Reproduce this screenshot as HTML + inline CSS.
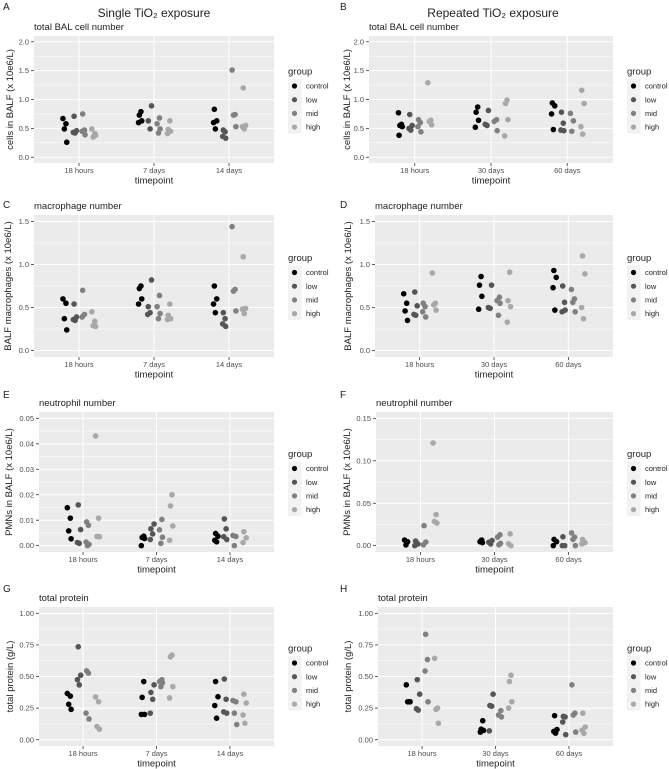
<!DOCTYPE html>
<html><head><meta charset="utf-8">
<style>
html,body{margin:0;padding:0;background:#fff;}
svg{display:block;font-family:"Liberation Sans","DejaVu Sans",sans-serif;}
</style></head>
<body>
<svg id="fig" width="669" height="769" viewBox="0 0 669 769" xmlns="http://www.w3.org/2000/svg">
<text x="154" y="17" font-size="12" text-anchor="middle" fill="#222">Single TiO₂ exposure</text>
<text x="493" y="17" font-size="12" text-anchor="middle" fill="#222">Repeated TiO₂ exposure</text>
</svg>
<script>
const groups = ["control","low","mid","high"];
const categoriesSingle = ["18 hours","7 days","14 days"];
const categoriesRepeated = ["18 hours","30 days","60 days"];

// values[timepoint][group] = observations
const totalCellsSingle = [
 [[0.67,0.58,0.49,0.26],[0.71,0.46,0.43,0.42],[0.75,0.47,0.45,0.39],[0.49,0.41,0.35,0.38]],
 [[0.79,0.73,0.63,0.60],[0.89,0.63,0.49],[0.68,0.58,0.49,0.42],[0.63,0.48,0.45,0.41]],
 [[0.83,0.63,0.60,0.49],[0.47,0.44,0.36,0.33],[1.51,0.74,0.73,0.53],[1.20,0.55,0.53,0.49]]
];
const totalCellsRepeated = [
 [[0.77,0.57,0.55,0.53,0.38],[0.74,0.55,0.50,0.47],[0.65,0.60,0.53,0.44],[1.29,0.64,0.62,0.56]],
 [[0.87,0.78,0.64,0.52],[0.81,0.57,0.55],[0.65,0.62,0.46],[0.99,0.93,0.65,0.37]],
 [[0.94,0.89,0.75,0.48],[0.78,0.59,0.47,0.46],[0.76,0.63,0.45],[1.16,0.93,0.53,0.40]]
];
const macrophagesSingle = [
 [[0.60,0.55,0.37,0.24],[0.54,0.39,0.36,0.35],[0.70,0.42,0.39],[0.45,0.34,0.29,0.28]],
 [[0.75,0.72,0.60,0.54],[0.82,0.51,0.44,0.42],[0.64,0.51,0.43,0.37],[0.54,0.41,0.37,0.36]],
 [[0.75,0.60,0.54,0.44],[0.44,0.37,0.31,0.28],[1.44,0.71,0.69,0.46],[1.09,0.49,0.48,0.43]]
];
const macrophagesRepeated = [
 [[0.66,0.55,0.46,0.35],[0.68,0.52,0.42,0.41],[0.55,0.51,0.45,0.39],[0.90,0.55,0.53,0.47]],
 [[0.86,0.76,0.63,0.48],[0.76,0.50,0.49],[0.62,0.58,0.55,0.41],[0.91,0.58,0.51,0.33]],
 [[0.93,0.85,0.73,0.47],[0.75,0.56,0.45,0.47],[0.71,0.60,0.56,0.45],[1.10,0.89,0.50,0.37]]
];
const neutrophilsSingle = [
 [[0.0149,0.0108,0.0058,0.0027],[0.0160,0.0063,0.0012,0.0009],[0.0093,0.0080,0.0014,0.0005,0.0],[0.0431,0.0108,0.0036,0.0035]],
 [[0.0037,0.0032,0.0028,0.0],[0.0085,0.0066,0.0046,0.0024],[0.0103,0.0062,0.0033,0.0009],[0.0200,0.0156,0.0077,0.0021]],
 [[0.0048,0.0037,0.0021,0.0015],[0.0105,0.0066,0.0035,0.0024],[0.0040,0.0036,0.0],[0.0055,0.0031,0.0012]]
];
const neutrophilsRepeated = [
 [[0.0066,0.0046,0.0008],[0.0054,0.0020,0.0],[0.0235,0.0042,0.0010],[0.121,0.0366,0.0285,0.0266]],
 [[0.0066,0.0046,0.0035],[0.0060,0.0040,0.0020],[0.0127,0.0100,0.0027,0.0010],[0.0139,0.0023,0.0]],
 [[0.0073,0.0046,0.0],[0.0104,0.0,0.0],[0.0150,0.0100,0.0073,0.0],[0.0073,0.0035,0.0020]]
];
const proteinSingle = [
 [[0.366,0.345,0.28,0.24],[0.735,0.51,0.475,0.434],[0.545,0.527,0.21,0.164],[0.338,0.30,0.104,0.083]],
 [[0.46,0.335,0.20,0.20],[0.434,0.374,0.32,0.21],[0.475,0.46,0.45,0.42],[0.67,0.655,0.42,0.33]],
 [[0.46,0.34,0.27,0.17],[0.48,0.32,0.22,0.21],[0.31,0.30,0.21,0.12],[0.36,0.29,0.195,0.13]]
];
const proteinRepeated = [
 [[0.434,0.30,0.30,0.30],[0.475,0.36,0.245,0.234],[0.834,0.634,0.543,0.30],[0.644,0.25,0.24,0.13]],
 [[0.15,0.083,0.073,0.06],[0.36,0.27,0.265,0.07],[0.23,0.195,0.18],[0.51,0.46,0.30,0.25]],
 [[0.19,0.08,0.065,0.052],[0.184,0.18,0.14,0.04],[0.434,0.21,0.195,0.06],[0.21,0.10,0.075,0.05]]
];

const ticksCells = [0,0.5,1.0,1.5,2.0];
const tickLabelsCells = ["0.0","0.5","1.0","1.5","2.0"];
const ticksMac = [0,0.5,1.0,1.5];
const tickLabelsMac = ["0.0","0.5","1.0","1.5"];
const ticksPmnSingle = [0,0.01,0.02,0.03,0.04,0.05];
const tickLabelsPmnSingle = ["0.00","0.01","0.02","0.03","0.04","0.05"];
const ticksPmnRepeated = [0,0.05,0.10,0.15];
const tickLabelsPmnRepeated = ["0.00","0.05","0.10","0.15"];
const ticksProtein = [0,0.25,0.5,0.75,1.0];
const tickLabelsProtein = ["0.00","0.25","0.50","0.75","1.00"];

const NS = "http://www.w3.org/2000/svg";
const svg = document.getElementById("fig");
const colors = ["#000000","#555555","#808080","#a8a8a8"];
const dodge = [-0.19,-0.06,0.065,0.195];
const jit = [-1.8,1.2,-0.4,2.0,-1.2,0.6];

function mk(tag, attrs, parent){
  const e = document.createElementNS(NS, tag);
  for (const k in attrs) e.setAttribute(k, attrs[k]);
  (parent||svg).appendChild(e);
  return e;
}

function panel(p){
  const g = mk("g", {});
  
  
  const lo = -0.05*p.lim, hi = 1.05*p.lim;
  const y = v => p.y1 - (v - lo)/(hi - lo)*(p.y1 - p.y0);
  const w = p.x1 - p.x0;
  const x = i => p.x0 + w*(0.6 + i)/3.2;
  const bg = mk("rect", {x:p.x0, y:p.y0, width:w, height:p.y1-p.y0, fill:"#ebebeb"}, g);
  
  
  // minor grid
  for (let i=0;i<p.ticks.length-1;i++){
    const m = (p.ticks[i]+p.ticks[i+1])/2;
    mk("line",{x1:p.x0,x2:p.x1,y1:y(m),y2:y(m),stroke:"#fff","stroke-width":0.5},g);
  }
  p.ticks.forEach((t,i)=>{
    mk("line",{x1:p.x0,x2:p.x1,y1:y(t),y2:y(t),stroke:"#fff","stroke-width":1},g);
    mk("line",{x1:p.x0-3,x2:p.x0,y1:y(t),y2:y(t),stroke:"#333","stroke-width":0.8},g);
    const tl = mk("text",{x:p.x0-5,y:y(t)+2.6,"font-size":7.5,"text-anchor":"end",fill:"#4d4d4d"},g);
    tl.textContent = p.tickLabels[i];
    
    
  });
  p.cats.forEach((c,i)=>{
    mk("line",{x1:x(i),x2:x(i),y1:p.y0,y2:p.y1,stroke:"#fff","stroke-width":1},g);
    mk("line",{x1:x(i),x2:x(i),y1:p.y1,y2:p.y1+3,stroke:"#333","stroke-width":0.8},g);
    const tl = mk("text",{x:x(i),y:p.y1+10,"font-size":7.5,"text-anchor":"middle",fill:"#4d4d4d"},g);
    tl.textContent = c;
    
    
  });
  // points
  p.data.forEach((tp,i)=>{
    tp.forEach((vals,gi)=>{
      vals.forEach((v,k)=>{
        const cx = x(i) + dodge[gi]*(w/3.2) + jit[(k+gi*2+i)%6];
        const c = mk("circle",{cx:cx,cy:y(v),r:2.8,fill:colors[gi]},g);
        
        
      });
    });
  });
  const st = mk("text",{x:p.x0,y:p.y0-6,"font-size":9.5,fill:"#222"},g);
  st.textContent = p.subtitle;
  
  
  const xt = mk("text",{x:(p.x0+p.x1)/2,y:p.y1+20.5,"font-size":9.5,"text-anchor":"middle",fill:"#222"},g);
  xt.textContent = "timepoint";
  
  
  const cy = (p.y0+p.y1)/2;
  const yt = mk("text",{x:0,y:0,"font-size":9.5,"text-anchor":"middle",fill:"#222",transform:`translate(${p.ax+3},${cy}) rotate(-90)`},g);
  yt.textContent = p.ytitle;
  
  
  const lt = mk("text",{x:p.lx,y:p.letterY,"font-size":10,fill:"#222"},g);
  lt.textContent = p.letter;
  
  
  // legend
  const lx = p.x1 + 14;
  const lg = mk("g",{},g);
  
  
  const gt = mk("text",{x:lx,y:cy-25,"font-size":9.5,fill:"#222"},lg);
  gt.textContent = "group";
  mk("rect",{x:lx,y:cy-20.5,width:13.5,height:54.5,fill:"#f2f2f2"},lg);
  groups.forEach((gn,gi)=>{
    const ey = cy - 13.5 + 13.7*gi;
    const kc = mk("circle",{cx:lx+6.5,cy:ey,r:2.6,fill:colors[gi]},lg);
    
    
    const kt = mk("text",{x:lx+18,y:ey+2.6,"font-size":7.5,fill:"#222"},lg);
    kt.textContent = gn;
    
    
  });
}

const rows = [
  {y0:36,y1:163,ly:10},
  {y0:215,y1:357,ly:208},
  {y0:412,y1:552,ly:404},
  {y0:607,y1:746,ly:592}
];
panel({name:"panel-a",letter:"A",lx:3,letterY:rows[0].ly,x0:34,x1:274,y0:rows[0].y0,y1:rows[0].y1,lim:2,ticks:ticksCells,tickLabels:tickLabelsCells,cats:categoriesSingle,data:totalCellsSingle,subtitle:"total BAL cell number",ytitle:"cells in BALF (x 10e6/L)",ax:10});
panel({name:"panel-b",letter:"B",lx:340,letterY:rows[0].ly,x0:369,x1:613,y0:rows[0].y0,y1:rows[0].y1,lim:2,ticks:ticksCells,tickLabels:tickLabelsCells,cats:categoriesRepeated,data:totalCellsRepeated,subtitle:"total BAL cell number",ytitle:"cells in BALF (x 10e6/L)",ax:347});
panel({name:"panel-c",letter:"C",lx:3,letterY:rows[1].ly,x0:34,x1:274,y0:rows[1].y0,y1:rows[1].y1,lim:1.5,ticks:ticksMac,tickLabels:tickLabelsMac,cats:categoriesSingle,data:macrophagesSingle,subtitle:"macrophage number",ytitle:"BALF macrophages (x 10e6/L)",ax:8});
panel({name:"panel-d",letter:"D",lx:340,letterY:rows[1].ly,x0:375,x1:613,y0:rows[1].y0,y1:rows[1].y1,lim:1.5,ticks:ticksMac,tickLabels:tickLabelsMac,cats:categoriesRepeated,data:macrophagesRepeated,subtitle:"macrophage number",ytitle:"BALF macrophages (x 10e6/L)",ax:348});
panel({name:"panel-e",letter:"E",lx:3,letterY:rows[2].ly-6,x0:39,x1:274,y0:rows[2].y0,y1:rows[2].y1,lim:0.05,ticks:ticksPmnSingle,tickLabels:tickLabelsPmnSingle,cats:categoriesSingle,data:neutrophilsSingle,subtitle:"neutrophil number",ytitle:"PMNs in BALF (x 10e6/L)",ax:9});
panel({name:"panel-f",letter:"F",lx:340,letterY:rows[2].ly-6,x0:376,x1:613,y0:rows[2].y0,y1:rows[2].y1,lim:0.15,ticks:ticksPmnRepeated,tickLabels:tickLabelsPmnRepeated,cats:categoriesRepeated,data:neutrophilsRepeated,subtitle:"neutrophil number",ytitle:"PMNs in BALF (x 10e6/L)",ax:347});
panel({name:"panel-g",letter:"G",lx:3,letterY:rows[3].ly,x0:39,x1:274,y0:rows[3].y0,y1:rows[3].y1,lim:1,ticks:ticksProtein,tickLabels:tickLabelsProtein,cats:categoriesSingle,data:proteinSingle,subtitle:"total protein",ytitle:"total protein (g/L)",ax:10});
panel({name:"panel-h",letter:"H",lx:340,letterY:rows[3].ly,x0:378,x1:613,y0:rows[3].y0,y1:rows[3].y1,lim:1,ticks:ticksProtein,tickLabels:tickLabelsProtein,cats:categoriesRepeated,data:proteinRepeated,subtitle:"total protein",ytitle:"total protein (g/L)",ax:348});
</script>
</body></html>
